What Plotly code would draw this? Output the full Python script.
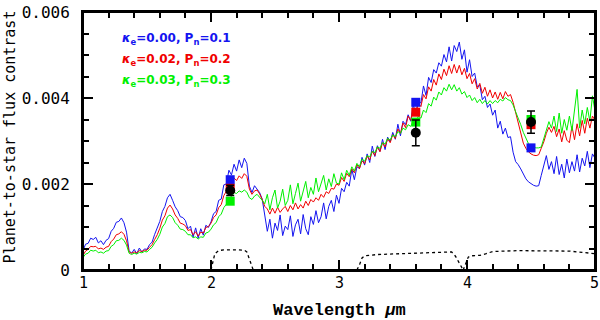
import numpy as np
import plotly.graph_objects as go

# wavelength grid (micron), 0.02 step
wave = np.round(np.linspace(1.0, 5.0, 201), 2)

# model spectra, planet/star contrast in units of 1e-4
blue_k000 = [
    4.5, 6.0, 6.2, 7.4, 7.1, 7.6, 6.3, 6.8, 5.9, 6.9,
    7.3, 9.0, 9.7, 11.1, 11.3, 12.1, 11.0, 8.8, 4.5, 3.9,
    4.8, 3.8, 5.1, 4.2, 4.9, 4.8, 5.9, 6.5, 8.3, 9.6,
    11.3, 13.6, 14.8, 16.8, 17.6, 16.2, 14.7, 13.8, 12.4, 12.2,
    11.5, 9.6, 10.2, 7.6, 9.8, 7.4, 9.6, 8.1, 10.4, 9.9,
    11.2, 13.1, 13.6, 16.2, 16.5, 19.8, 20.0, 23.2, 22.1, 24.6,
    23.0, 25.6, 23.8, 26.0, 24.8, 19.5, 18.0, 19.6, 18.8, 18.0,
    16.5, 12.6, 9.0, 11.8, 7.4, 10.9, 9.2, 12.8, 8.0, 10.2,
    9.4, 12.6, 7.8, 10.5, 11.8, 8.4, 12.9, 9.6, 8.2, 12.4,
    10.6, 13.8, 11.0, 12.4, 15.6, 11.9, 14.8, 16.2, 13.6, 17.4,
    15.5, 19.0, 18.2, 20.4, 19.5, 23.4, 21.0, 24.0, 23.6, 26.2,
    24.4, 27.0, 25.0, 28.8, 26.4, 28.9, 27.6, 30.4, 28.0, 30.9,
    29.8, 32.0, 30.4, 33.9, 31.2, 34.6, 33.8, 36.1, 34.6, 38.4,
    36.4, 39.4, 38.8, 42.8, 40.6, 44.8, 43.6, 46.6, 45.8, 48.2,
    47.4, 50.1, 48.4, 51.9, 48.6, 52.2, 50.8, 53.0, 49.0, 51.2,
    46.0, 48.9, 45.0, 45.8, 42.6, 43.0, 39.6, 40.4, 37.8, 38.6,
    36.0, 37.2, 33.0, 34.6, 31.6, 33.0, 30.8, 31.0, 27.4, 25.2,
    24.5, 23.5, 22.2, 21.2, 20.5, 20.0, 19.7, 19.5, 19.6, 22.0,
    24.6, 26.6, 23.4, 25.2, 22.4, 26.4, 22.2, 24.6, 21.4, 25.8,
    22.6, 25.2, 23.0, 26.8, 22.8, 26.0, 24.2, 27.6, 23.8, 27.0,
    26.0,
]

red_k002 = [
    3.4, 4.4, 4.8, 5.5, 5.4, 5.5, 4.9, 5.1, 4.8, 5.3,
    5.5, 6.6, 7.2, 8.2, 8.4, 8.9, 8.3, 6.8, 4.2, 3.9,
    4.2, 4.0, 4.5, 4.3, 4.6, 4.6, 5.3, 5.9, 7.1, 8.2,
    9.7, 11.6, 12.6, 14.4, 15.1, 14.2, 12.8, 12.0, 10.9, 10.7,
    10.3, 9.2, 9.4, 8.2, 8.9, 7.9, 8.8, 8.6, 9.9, 10.1,
    10.9, 12.2, 12.8, 14.5, 15.2, 17.3, 18.3, 19.9, 20.2, 21.4,
    20.8, 21.9, 21.3, 22.4, 21.8, 18.8, 17.6, 18.4, 18.6, 17.7,
    16.4, 14.8, 14.2, 13.0, 14.4, 13.2, 14.6, 13.4, 14.2, 14.8,
    13.6, 15.0, 14.0, 15.6, 14.2, 15.2, 14.4, 16.0, 15.0, 16.4,
    15.8, 16.8, 16.2, 17.6, 16.9, 18.2, 17.8, 19.0, 18.8, 20.0,
    19.7, 21.5, 20.6, 22.5, 21.7, 23.5, 22.6, 24.5, 23.6, 25.4,
    24.7, 26.5, 25.6, 27.6, 26.6, 28.6, 27.5, 29.6, 28.6, 30.5,
    29.6, 31.5, 30.6, 32.8, 31.8, 34.2, 33.1, 35.8, 34.8, 37.3,
    36.4, 38.9, 38.0, 40.8, 39.8, 42.6, 41.6, 44.3, 43.0, 45.6,
    44.3, 46.7, 45.2, 47.5, 45.7, 47.8, 45.8, 47.6, 45.4, 46.9,
    44.5, 45.7, 43.3, 44.5, 42.1, 43.4, 41.1, 42.5, 40.4, 41.9,
    40.0, 41.4, 39.7, 41.3, 39.8, 41.5, 40.4, 40.8, 39.0, 36.5,
    34.0, 31.5, 29.5, 28.3, 27.5, 27.0, 26.7, 26.6, 26.8, 28.3,
    29.8, 31.8, 33.2, 32.0, 33.4, 31.0, 32.8, 29.8, 32.4, 30.2,
    29.6, 33.4, 30.3, 34.0, 31.2, 34.8, 31.8, 35.3, 33.0, 35.8,
    34.8,
]

green_k003 = [
    2.9, 3.7, 3.9, 4.6, 4.4, 4.6, 4.0, 4.2, 3.9, 4.4,
    4.5, 5.5, 5.9, 6.8, 6.9, 7.4, 6.9, 5.8, 3.9, 3.6,
    3.9, 3.7, 4.1, 4.0, 4.3, 4.2, 4.8, 5.3, 6.3, 7.1,
    8.3, 10.0, 10.8, 12.4, 12.8, 12.2, 11.0, 10.4, 9.5, 9.4,
    9.0, 8.2, 8.2, 7.5, 7.7, 7.2, 7.7, 7.6, 8.6, 8.8,
    9.5, 10.5, 11.0, 12.4, 13.0, 14.5, 15.3, 16.7, 17.1, 18.0,
    17.8, 18.4, 18.1, 18.6, 18.1, 16.8, 16.4, 17.2, 17.6, 17.0,
    16.2, 15.4, 17.6, 14.0, 16.8, 18.6, 14.4, 16.0, 18.8, 15.0,
    16.2, 19.8, 15.4, 17.8, 20.2, 16.0, 18.6, 20.6, 16.8, 19.2,
    17.6, 21.4, 18.2, 20.0, 22.0, 18.6, 21.2, 19.4, 22.4, 20.2,
    20.0, 22.6, 21.0, 23.2, 22.0, 24.0, 23.0, 24.8, 24.0, 25.8,
    25.3, 26.6, 26.3, 27.6, 27.3, 28.6, 28.3, 29.6, 29.3, 30.6,
    30.2, 31.4, 31.0, 32.2, 31.8, 33.0, 32.6, 33.8, 33.4, 34.6,
    34.2, 35.8, 35.3, 37.2, 36.6, 38.7, 38.1, 40.2, 39.5, 41.4,
    40.7, 42.4, 41.6, 43.2, 41.9, 43.1, 41.6, 42.4, 40.9, 41.5,
    40.1, 40.7, 39.4, 40.1, 38.9, 39.7, 38.7, 39.4, 38.6, 39.4,
    38.7, 39.4, 38.9, 39.7, 39.3, 40.1, 39.6, 39.4, 38.4, 36.8,
    35.5, 33.8, 32.0, 30.5, 29.4, 28.8, 28.5, 28.4, 28.4, 28.6,
    30.5, 32.8, 34.5, 33.0, 35.8, 32.2, 36.5, 31.8, 35.0, 32.5,
    35.8, 32.4, 36.9, 42.0, 33.0, 37.2, 34.0, 37.8, 34.6, 40.5,
    37.0,
]

# filter transmission curves (dotted), same units
ks_wave = [2.00, 2.01, 2.03, 2.06, 2.10, 2.20, 2.26, 2.28, 2.30, 2.32, 2.33]
ks_resp = [0, 1.5, 3.8, 4.5, 4.7, 4.7, 4.6, 4.2, 2.5, 0.8, 0]
ch1_wave = [3.14, 3.16, 3.18, 3.20, 3.30, 3.45, 3.60, 3.75, 3.88, 3.91, 3.94, 3.97]
ch1_resp = [0, 1.2, 2.8, 3.3, 3.6, 3.8, 4.0, 4.2, 4.2, 3.2, 1.5, 0]
ch2_wave = [3.97, 3.99, 4.01, 4.03, 4.10, 4.15, 4.20, 4.40, 4.60, 4.80, 4.90, 5.00]
ch2_resp = [0, 1.5, 3.0, 3.3, 3.4, 3.8, 4.3, 4.5, 4.5, 4.4, 4.1, 3.8]

# band-integrated model points and observations
band_wave = [2.15, 3.6, 4.5]
band_blue = [21.0, 39.0, 28.4]
band_red = [19.0, 36.7, 33.8]
band_green = [16.0, 34.4, 35.0]
obs_val = [18.5, 31.9, 34.4]
obs_err = [1.2, 3.0, 2.6]

x_ticks = [1, 2, 3, 4, 5]
x_ticktext = ["1", "2", "3", "4", "5"]

blue, red, green = "#1414f0", "#f00000", "#00f000"
scale = 1e-4

fig = go.Figure()
for w, r in [(ks_wave, ks_resp), (ch1_wave, ch1_resp), (ch2_wave, ch2_resp)]:
    fig.add_trace(go.Scatter(x=w, y=np.array(r) * scale, mode="lines",
                             line=dict(color="black", width=1.3, dash="dot")))
for vals, col in [(blue_k000, blue), (red_k002, red), (green_k003, green)]:
    fig.add_trace(go.Scatter(x=wave, y=np.array(vals) * scale, mode="lines",
                             line=dict(color=col, width=1)))
for vals, col in [(band_blue, blue), (band_red, red), (band_green, green)]:
    fig.add_trace(go.Scatter(x=band_wave, y=np.array(vals) * scale, mode="markers",
                             marker=dict(symbol="square", size=9, color=col)))
fig.add_trace(go.Scatter(
    x=band_wave, y=np.array(obs_val) * scale, mode="markers",
    marker=dict(symbol="circle", size=10, color="black"),
    error_y=dict(type="data", array=np.array(obs_err) * scale, color="black",
                 thickness=1.5, width=4)))

mono = "DejaVu Sans Mono"
labels = [("κ", "e", "0.00", "0.1", blue), ("κ", "e", "0.02", "0.2", red),
          ("κ", "e", "0.03", "0.3", green)]
rows_y = [0.00537, 0.00488, 0.00439]
for (k, s, kv, pv, col), yy in zip(labels, rows_y):
    fig.add_annotation(x=1.29, y=yy, xref="x", yref="y", xanchor="left", yanchor="middle",
                       showarrow=False,
                       text=f"<b><i>{k}</i><sub>{s}</sub>={kv}, P<sub>n</sub>={pv}</b>",
                       font=dict(family="DejaVu Sans", size=12, color=col))

fig.add_annotation(x=-0.142, y=0.515, xref="paper", yref="paper", textangle=-90,
                   xanchor="center", yanchor="middle",
                   showarrow=False, text="Planet-to-star flux contrast",
                   font=dict(family=mono, size=15, color="black"))
fig.add_annotation(x=3.0, y=-0.157, xref="x", yref="paper", yanchor="middle",
                   showarrow=False, text="<b>Wavelength <i>μ</i>m</b>",
                   font=dict(family="Liberation Mono", size=17, color="black"))

# x tick labels drawn as text so the last one at the right edge is kept
for xv, lab in zip(x_ticks, x_ticktext):
    fig.add_annotation(x=xv, y=-0.05, xref="x", yref="paper", xanchor="center",
                       yanchor="middle", showarrow=False, text=lab, borderpad=0,
                       xshift=-1 if xv == 5 else 0,
                       font=dict(family=mono, size=15, color="black"))

# plot frame
fig.add_shape(type="rect", xref="paper", yref="paper", x0=0, y0=0, x1=1, y1=1,
              line=dict(color="black", width=2), layer="above")

axis_common = dict(showline=True, linecolor="black", linewidth=2, mirror="allticks",
                   ticks="inside", tickcolor="black", tickwidth=2, ticklen=10,
                   showgrid=False, zeroline=False, automargin=False)
fig.update_xaxes(range=[1, 5], tickvals=x_ticks, showticklabels=False,
                 minor=dict(dtick=0.2, ticklen=6, tickwidth=1.5, tickcolor="black", ticks="inside"),
                 **axis_common)
fig.update_yaxes(range=[0, 0.006], tickvals=[0, 0.002, 0.004, 0.006],
                 ticktext=["0", "0.002", "0.004", "0.006"], ticklabeloverflow="allow",
                 minor=dict(dtick=0.0005, ticklen=6, tickwidth=1.5, tickcolor="black", ticks="inside"),
                 ticklabelstandoff=8, tickfont=dict(family=mono, size=16, color="black"),
                 **axis_common)
fig.update_layout(width=600, height=320, showlegend=False,
                  margin=dict(l=83, r=5, t=12, b=50, autoexpand=False),
                  plot_bgcolor="white", paper_bgcolor="white")
# drop the default page margin so the figure fills the window exactly
fig.write_html("out.html", config={"displayModeBar": False},
               post_script="document.body.style.margin='0';document.body.style.overflow='hidden';")
